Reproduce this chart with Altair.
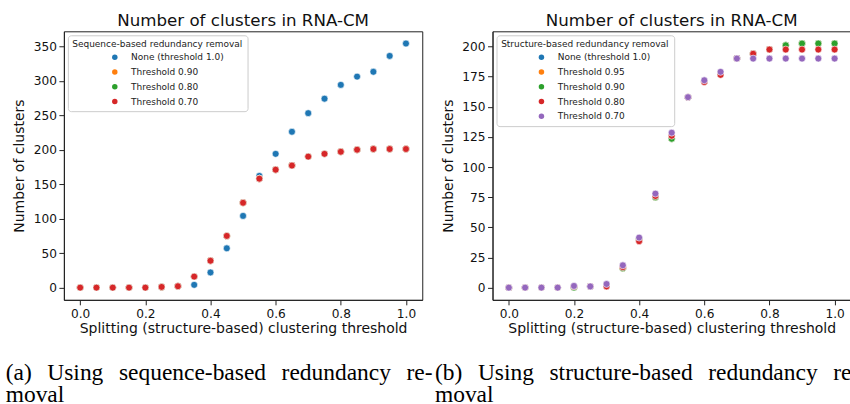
import altair as alt
import pandas as pd

# ---------------- data ----------------
thresholds = [0.0, 0.05, 0.10, 0.15, 0.20, 0.25, 0.30, 0.35, 0.40, 0.45, 0.50,
              0.55, 0.60, 0.65, 0.70, 0.75, 0.80, 0.85, 0.90, 0.95, 1.0]

# (a) sequence-based redundancy removal
seq_series = ["None (threshold 1.0)", "Threshold 0.90", "Threshold 0.80", "Threshold 0.70"]
seq_colors = ["#1f77b4", "#ff7f0e", "#2ca02c", "#d62728"]
seq_none = [0, 0, 0, 0, 0, 1, 2, 4, 22, 57, 104, 162, 194, 226, 253, 274, 294, 306, 313, 336, 354]
seq_090 = [0, 0, 0, 0, 0, 1, 2, 16, 39, 75, 123, 158, 171, 177, 190, 194, 197, 200, 201, 201, 201]
seq_080 = [0, 0, 0, 0, 0, 1, 2, 16, 39, 75, 123, 158, 171, 177, 190, 194, 197, 200, 201, 201, 201]
seq_070 = [0, 0, 0, 0, 0, 1, 2, 16, 39, 75, 123, 158, 171, 177, 190, 194, 197, 200, 201, 201, 201]

# (b) structure-based redundancy removal
str_series = ["None (threshold 1.0)", "Threshold 0.95", "Threshold 0.90", "Threshold 0.80", "Threshold 0.70"]
str_colors = ["#1f77b4", "#ff7f0e", "#2ca02c", "#d62728", "#9467bd"]
str_none = [0, 0, 0, 0, 0, 1, 2, 16, 40, 75, 123.5, 158, 171, 177, 190, 194, 197.5, 201, 202.5, 202.5, 202.5]
str_095 = [0, 0, 0, 0, 0, 1, 2, 16, 40, 75, 123.5, 158, 171, 177, 190, 194, 197.5, 201, 202.5, 202.5, 202.5]
str_090 = [0, 0, 0, 0, 0, 1, 2, 16, 40, 75, 123.5, 158, 171, 177, 190, 194, 197.5, 201, 202.5, 202.5, 202.5]
str_080 = [0, 0, 0, 0, 1, 1, 1, 17, 38.5, 76, 126, 158, 170.5, 176.5, 190, 194, 197.5, 197.5, 197.5, 197.5, 197.5]
str_070 = [0, 0, 0, 0, 1.4, 1, 3, 18.5, 41.5, 78, 128.5, 158, 172, 179, 190, 190, 190, 190, 190, 190, 190]

x_ticks = [0.0, 0.2, 0.4, 0.6, 0.8, 1.0]
seq_y_ticks = [0, 50, 100, 150, 200, 250, 300, 350]
str_y_ticks = [0, 25, 50, 75, 100, 125, 150, 175, 200]

chart_title = "Number of clusters in RNA-CM"
x_title = "Splitting (structure-based) clustering threshold"
y_title = "Number of clusters"
seq_legend_title = "Sequence-based redundancy removal"
str_legend_title = "Structure-based redundancy removal"

G = "\u00a0\u00a0\u2006"  # justified word gap
caption_a = ["(a)" + G + "Using" + G + "sequence-based" + G + "redundancy" + G + "re-", "moval"]
caption_b = ["(b)" + G + "Using" + G + "structure-based" + G + "redundancy" + G + "re-", "moval"]


def long_df(series, columns):
    rows = []
    for name, vals in zip(series, columns):
        for t, v in zip(thresholds, vals):
            rows.append({"threshold": t, "clusters": v, "series": name})
    return pd.DataFrame(rows)


seq_df = long_df(seq_series, [seq_none, seq_090, seq_080, seq_070])
str_df = long_df(str_series, [str_none, str_095, str_090, str_080, str_070])

W, H = 359, 269
one = pd.DataFrame({"k": [0]})


def text_layer(txt, x, y, **kw):
    return alt.Chart(one).mark_text(**kw).encode(
        x=alt.value(x), y=alt.value(y), text=alt.value(txt))


def panel(df, series, colors, ydom, yticks, legend_title, sym_offset, caption, cap_x):
    pts = alt.Chart(df).mark_circle(size=48, opacity=1, stroke="white", strokeWidth=0.6).encode(
        x=alt.X("threshold:Q",
                scale=alt.Scale(domain=[-0.05, 1.05], nice=False, zero=False),
                axis=alt.Axis(values=x_ticks, format=".1f", title=x_title)),
        y=alt.Y("clusters:Q",
                scale=alt.Scale(domain=ydom, nice=False, zero=False),
                axis=alt.Axis(values=yticks, format="d", title=y_title)),
        color=alt.Color("series:N", sort=series,
                        scale=alt.Scale(domain=series, range=colors),
                        legend=alt.Legend(title=legend_title, orient="top-left", offset=4,
                                          padding=4.5, symbolOffset=sym_offset, labelOffset=11.8,
                                          strokeColor="#cccccc", fillColor="rgba(255,255,255,0.85)",
                                          cornerRadius=3, symbolSize=30, symbolType="circle",
                                          symbolStrokeWidth=0, symbolOpacity=1,
                                          rowPadding=4.8, titlePadding=4, titleLimit=400,
                                          labelLimit=300, titleAnchor="middle")),
    )
    cap = text_layer(caption, cap_x, 330, align="left", baseline="top", font="Liberation Serif",
                     fontSize=23.5, lineHeight=22.5, color="black")
    ttl = text_layer(chart_title, W / 2, -5, align="center", baseline="alphabetic",
                     font="DejaVu Sans", fontSize=16.7, color="#111111")
    return alt.layer(pts, ttl, cap).properties(width=W, height=H)


left = panel(seq_df, seq_series, seq_colors, [-17.7, 371.7], seq_y_ticks, seq_legend_title, 19,
             caption_a, -58.3)
right = panel(str_df, str_series, str_colors, [-10.125, 212.625], str_y_ticks, str_legend_title, 17,
              caption_b, -57.7)

chart = alt.hconcat(left, right, spacing=70.4, bounds="flush").resolve_scale(
    color="independent"
).resolve_legend(color="independent").properties(
    padding={"left": 5, "top": 12, "right": -10.5, "bottom": -2}
).configure_view(stroke="#222222", strokeWidth=1).configure_axis(
    labelFont="DejaVu Sans", labelFontSize=12.2, labelColor="#111111",
    titleFont="DejaVu Sans", titleFontSize=14, titleFontWeight="normal", titleColor="#111111",
    tickSize=5, tickColor="#222222", tickWidth=1, domainColor="#222222", domainWidth=1,
    grid=False, labelPadding=2.5,
).configure_axisY(titlePadding=6.3).configure_axisX(titlePadding=2.3).configure_legend(
    titleFont="DejaVu Sans", titleFontSize=9, titleFontWeight="normal", titleColor="#222222",
    labelFont="DejaVu Sans", labelFontSize=9, labelColor="#222222",
)

chart.save("out.html", embed_options={"renderer": "svg", "actions": False})
